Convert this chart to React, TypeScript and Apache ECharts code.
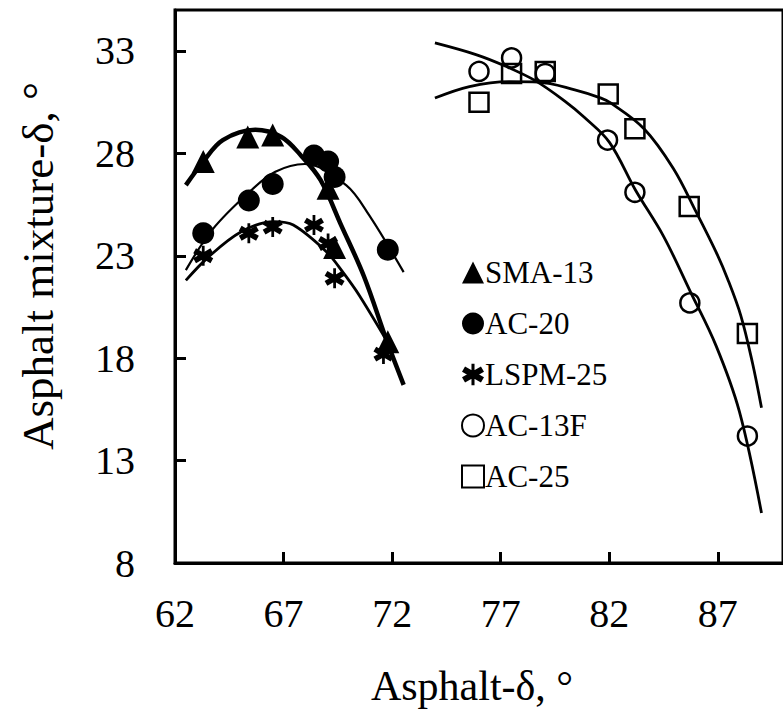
import React, { useEffect, useRef } from "react";
import * as echarts from "echarts";

const xTicks = [62, 67, 72, 77, 82, 87];
const yTicks = [8, 13, 18, 23, 28, 33];

const seriesNames = ["SMA-13", "AC-20", "LSPM-25", "AC-13F", "AC-25"];

// measured points
const smaX = [63.3, 65.35, 66.5, 69.05, 69.35, 71.8];
const smaY = [27.6, 28.8, 28.9, 26.3, 23.4, 18.8];
const ac20X = [63.3, 65.4, 66.5, 68.4, 69.05, 69.35, 71.8];
const ac20Y = [24.1, 25.7, 26.5, 27.9, 27.6, 26.85, 23.3];
const lspmX = [63.3, 65.4, 66.5, 68.4, 69.05, 69.35, 71.6];
const lspmY = [23.0, 24.1, 24.4, 24.5, 23.6, 21.9, 18.2];
const ac13fX = [76.0, 77.5, 79.05, 81.92, 83.18, 85.71, 88.36];
const ac13fY = [32.0, 32.66, 31.9, 28.65, 26.1, 20.7, 14.2];
const ac25X = [76.0, 77.5, 79.05, 81.95, 83.18, 85.68, 88.36];
const ac25Y = [30.5, 31.9, 32.0, 30.9, 29.2, 25.4, 19.2];

// trend curves
const smaCurveX = [62.5, 63.3, 64.2, 65.7, 66.9, 67.8, 68.7, 69.65, 70.7, 71.77, 72.53];
const smaCurveY = [26.45, 27.6, 28.65, 29.15, 28.8, 27.9, 26.7, 24.5, 22.0, 18.8, 16.7];
const ac20CurveX = [62.5, 63.74, 65.41, 66.62, 67.98, 69.88, 70.94, 72.53];
const ac20CurveY = [22.3, 24.3, 26.1, 27.1, 27.48, 26.45, 24.98, 22.2];
const lspmCurveX = [62.5, 63.5, 65.03, 66.55, 67.45, 68.97, 69.73, 70.49, 72.0];
const lspmCurveY = [21.8, 22.9, 24.16, 24.67, 24.5, 23.2, 22.2, 21.06, 18.4];
const ac13fCurveX = [73.97, 75.86, 77.23, 78.59, 79.95, 80.86, 82.0, 83.21, 84.5, 85.71, 86.92, 87.99, 89.01];
const ac13fCurveY = [33.39, 32.82, 32.25, 31.55, 30.55, 29.75, 28.55, 26.2, 23.95, 21.3, 18.6, 15.4, 10.44];
const ac25CurveX = [73.97, 75.56, 77.38, 78.74, 80.41, 81.62, 82.08, 83.6, 84.95, 86.0, 86.92, 87.45, 88.06, 88.59, 89.01];
const ac25CurveY = [30.7, 31.26, 31.5, 31.48, 31.1, 30.7, 30.45, 29.2, 27.26, 25.14, 23.18, 21.87, 20.07, 17.79, 15.58];

const zip = (xs: number[], ys: number[]) => xs.map((x, i) => [x, ys[i]]);

const ASTERISK =
  "path://M43,0L57,0L57,100L43,100Z M86.6,12.9L100.6,37.1L13.4,87.1L-0.6,62.9Z M100.6,62.9L86.6,87.1L-0.6,37.1L13.4,12.9Z";

const FONT = "Liberation Serif";

export default function App() {
  const ref = useRef<HTMLDivElement>(null);
  useEffect(() => {
    if (!ref.current) return;
    const chart = echarts.init(ref.current, null, { renderer: "svg" });
    const line = (name: string, xs: number[], ys: number[], w: number) => ({
      name: name + "-fit",
      type: "line",
      data: zip(xs, ys),
      smooth: 0.35,
      showSymbol: false,
      symbol: "none",
      lineStyle: { color: "#000", width: w },
      z: 2,
      silent: true,
    });
    const scatter = (name: string, xs: number[], ys: number[], symbol: string, size: number, filled: boolean) => ({
      name,
      type: "scatter",
      data: zip(xs, ys),
      symbol,
      symbolSize: size,
      itemStyle: filled
        ? { color: "#000", borderWidth: 0, opacity: 1 }
        : { color: "rgba(0,0,0,0)", borderColor: "#000", borderWidth: 2.5, opacity: 1 },
      z: 5,
    });
    chart.setOption({
      animation: false,
      backgroundColor: "#fff",
      textStyle: { fontFamily: FONT },
      grid: {
        left: 175,
        top: 10,
        width: 616,
        height: 553,
        show: true,
        borderColor: "#000",
        borderWidth: 3,
        containLabel: false,
      },
      xAxis: {
        type: "value",
        min: 62,
        max: 90,
        axisLine: { show: true, lineStyle: { color: "#000", width: 3 } },
        axisTick: { show: true, inside: true, length: 11, lineStyle: { color: "#000", width: 3 }, customValues: xTicks },
        axisLabel: { customValues: xTicks, margin: 30, color: "#000", fontSize: 40, fontFamily: FONT },
        splitLine: { show: false },
      },
      yAxis: {
        type: "value",
        min: 8,
        max: 35,
        axisLine: { show: true, lineStyle: { color: "#000", width: 3 } },
        axisTick: { show: true, inside: true, length: 11, lineStyle: { color: "#000", width: 3 }, customValues: yTicks },
        axisLabel: { customValues: yTicks, margin: 40, color: "#000", fontSize: 40, fontFamily: FONT },
        splitLine: { show: false },
      },
      legend: {
        data: seriesNames,
        orient: "vertical",
        left: 456,
        top: 252,
        itemWidth: 22,
        itemHeight: 22,
        itemGap: 20,
        textStyle: { color: "#000", fontSize: 31, fontFamily: FONT, lineHeight: 31, padding: [0, 0, 0, -4] },
        selectedMode: false,
      },
      graphic: [
        {
          type: "text",
          x: 472,
          y: 686,
          style: {
            text: "Asphalt-δ, °",
            fill: "#000",
            fontSize: 42,
            fontFamily: FONT,
            textAlign: "center",
            textVerticalAlign: "middle",
          },
        },
        {
          type: "text",
          x: 38,
          y: 266,
          rotation: Math.PI / 2,
          style: {
            text: "Asphalt mixture-δ, °",
            fill: "#000",
            fontSize: 45,
            fontFamily: FONT,
            textAlign: "center",
            textVerticalAlign: "middle",
          },
        },
      ],
      series: [
        line("SMA-13", smaCurveX, smaCurveY, 4.5),
        line("AC-20", ac20CurveX, ac20CurveY, 2.2),
        line("LSPM-25", lspmCurveX, lspmCurveY, 2.8),
        line("AC-13F", ac13fCurveX, ac13fCurveY, 2.8),
        line("AC-25", ac25CurveX, ac25CurveY, 2.8),
        scatter("SMA-13", smaX, smaY, "triangle", 23, true),
        scatter("AC-20", ac20X, ac20Y, "circle", 22, true),
        scatter("LSPM-25", lspmX, lspmY, ASTERISK, 20, true),
        scatter("AC-13F", ac13fX, ac13fY, "circle", 19, false),
        scatter("AC-25", ac25X, ac25Y, "rect", 19, false),
      ],
    });
    return () => chart.dispose();
  }, []);
  return (
    <div
      ref={ref}
      style={{ position: "absolute", left: 0, top: 0, width: 783, height: 725 }}
    />
  );
}
